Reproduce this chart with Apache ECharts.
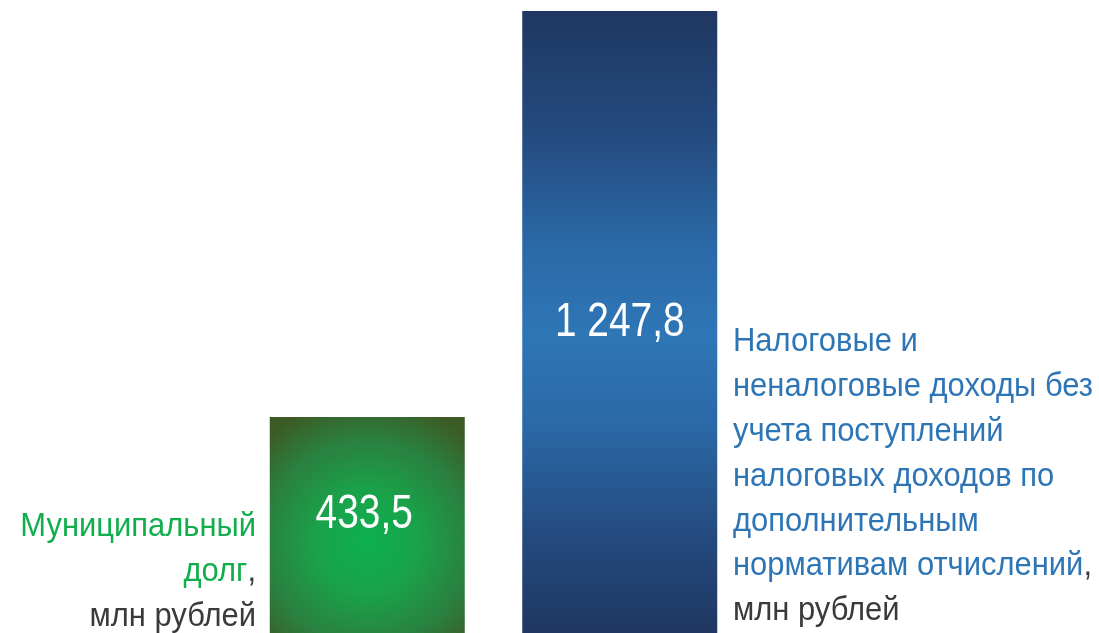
<!DOCTYPE html>
<html><head><meta charset="utf-8">
<script src="https://cdn.jsdelivr.net/npm/echarts@6/dist/echarts.min.js"></script>
<style>html,body{margin:0;padding:0;background:#fff}#c{width:1099px;height:633px}</style>
</head><body><div id="c"></div>
<script>
const categories = ['Муниципальный долг', 'Налоговые и неналоговые доходы'];
const values = [433.5, 1247.8];
const leftLines = [['Муниципальный', ''], ['долг', ','], ['', 'млн рублей']];
const rightLines = [['Налоговые и', ''], ['неналоговые доходы без', ''], ['учета поступлений', ''], ['налоговых доходов по', ''], ['дополнительным', ''], ['нормативам отчислений', ','], ['', 'млн рублей']];

const FONT = '"Liberation Sans", Arial, sans-serif';
const SX = 0.91, SXV = 0.81;
const GREEN = '#12ad4c', BLUE = '#2e75b6', DARK = '#3a3a3a';

function fmt(v) {
  const parts = v.toFixed(1).split('.');
  return parts[0].replace(/\B(?=(\d{3})+(?!\d))/g, ' ') + ',' + parts[1];
}

const fills = [
  {type: 'radial', x: 0.5, y: 0.58, r: 0.75, colorStops: [
    {offset: 0, color: '#0cb04e'}, {offset: 0.35, color: '#1aa24a'}, {offset: 0.7, color: '#2a8040'}, {offset: 1, color: '#3c5a24'}]},
  {type: 'linear', x: 0, y: 0, x2: 0, y2: 1, colorStops: [
    {offset: 0, color: '#1f3762'}, {offset: 0.2, color: '#244b7f'}, {offset: 0.38, color: '#2b69a8'},
    {offset: 0.52, color: '#2e76b6'}, {offset: 0.66, color: '#2b69a8'}, {offset: 0.84, color: '#244b7f'}, {offset: 1, color: '#1f3762'}]}
];
const offsets = [[-3, -10], [0, 1]];

function textEl(x, y, segs, align, size, sx) {
  return {type: 'text', z: 100, x: x, y: y, scaleX: sx, scaleY: 1,
    style: {text: segs, x: 0, y: 0, textAlign: align, textVerticalAlign: 'middle', font: size + 'px ' + FONT,
      rich: {g: {fill: GREEN, fontSize: size, fontFamily: FONT}, b: {fill: BLUE, fontSize: size, fontFamily: FONT},
             d: {fill: DARK, fontSize: size, fontFamily: FONT}, w: {fill: '#fff', fontSize: size, fontFamily: FONT}}}};
}

const graphics = [];
leftLines.forEach((ln, i) => {
  graphics.push(textEl(256, 527 + i * 45, (ln[0] ? '{g|' + ln[0] + '}' : '') + (ln[1] ? '{d|' + ln[1] + '}' : ''), 'right', 34, SX));
});
rightLines.forEach((ln, i) => {
  graphics.push(textEl(733, 342 + i * 44.8, (ln[0] ? '{b|' + ln[0] + '}' : '') + (ln[1] ? '{d|' + ln[1] + '}' : ''), 'left', 34, SX));
});

const chart = echarts.init(document.getElementById('c'), null, {renderer: 'canvas'});
chart.setOption({
  animation: false,
  grid: {left: 241, right: 353, top: 11, bottom: 0, containLabel: false},
  xAxis: {type: 'category', data: categories, show: false},
  yAxis: {type: 'value', min: 0, max: values[1], show: false},
  series: [{
    type: 'bar', barWidth: 195,
    data: values.map((v, i) => ({value: v, itemStyle: {color: fills[i]}})),
    label: {show: false}
  }]
});
// value labels placed at bar centres computed by the chart's own scales
values.forEach((v, i) => {
  const top = chart.convertToPixel({seriesIndex: 0}, [i, v]);
  const base = chart.convertToPixel({seriesIndex: 0}, [i, 0]);
  const cx = top[0] + offsets[i][0];
  const cy = (top[1] + base[1]) / 2 + offsets[i][1];
  graphics.push(textEl(cx, cy, '{w|' + fmt(v) + '}', 'center', 48, SXV));
});
chart.setOption({graphic: graphics});
</script></body></html>
